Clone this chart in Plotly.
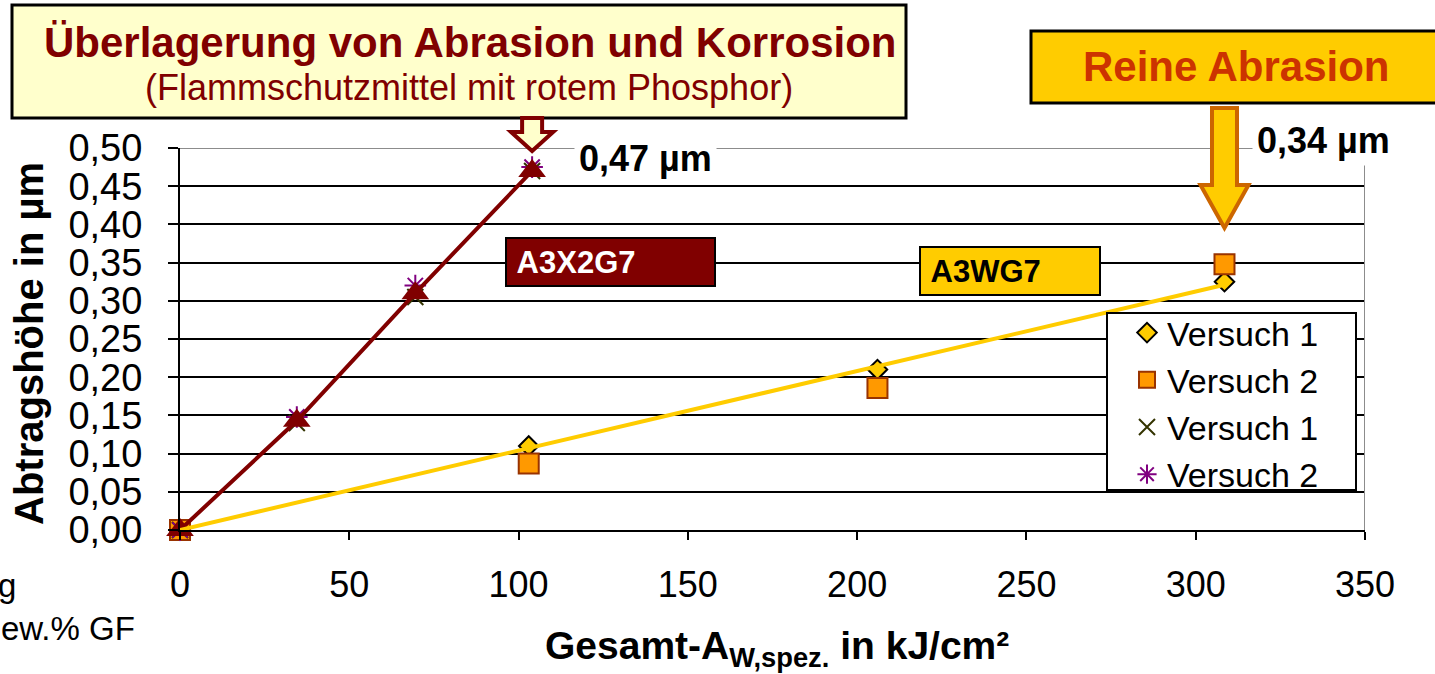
import plotly.graph_objects as go

# Abtragshöhe (µm) über dem Gesamt-Energieeintrag (kJ/cm²)
energie_a3x2g7 = [0, 34.5, 69.5, 104]
abtrag_a3x2g7_v1 = [0, 0.140, 0.305, 0.470]
abtrag_a3x2g7_v2 = [0, 0.148, 0.320, 0.475]
abtrag_a3x2g7_mittel = [0, 0.143, 0.310, 0.470]

energie_a3wg7 = [0, 103, 206, 308.5]
abtrag_a3wg7_v1 = [0, 0.110, 0.210, 0.325]
abtrag_a3wg7_v2 = [0, 0.087, 0.186, 0.348]

trend_a3wg7_x = [0, 308.5]
trend_a3wg7_y = [0, 0.321]

x_ticks = [0, 50, 100, 150, 200, 250, 300, 350]
y_ticks = [0.00, 0.05, 0.10, 0.15, 0.20, 0.25, 0.30, 0.35, 0.40, 0.45, 0.50]

FONT = "Arial, Liberation Sans, sans-serif"
W, H = 1435, 674
L, R, T, B = 180, 1365, 148, 530
XMAX, YMAX = 350, 0.5


def px(X):  # page pixel -> paper x
    return (X - L) / (R - L)


def py(Y):  # page pixel -> paper y
    return (B - Y) / (B - T)


def x2px(x):
    return L + x / XMAX * (R - L)


def fmt_um(v):
    return f"{v:.2f}".replace(".", ",") + " µm"


fig = go.Figure()

fig.add_trace(go.Scatter(
    x=energie_a3wg7, y=abtrag_a3wg7_v1, mode="markers", name="Versuch 1",
    marker=dict(symbol="diamond", size=15, color="#FFCC00", line=dict(color="black", width=2)),
    cliponaxis=False))
fig.add_trace(go.Scatter(
    x=energie_a3wg7, y=abtrag_a3wg7_v2, mode="markers", name="Versuch 2",
    marker=dict(symbol="square", size=20, color="#FF9900", line=dict(color="#993300", width=2)),
    cliponaxis=False))
fig.add_trace(go.Scatter(
    x=energie_a3x2g7, y=abtrag_a3x2g7_v1, mode="markers", name="Versuch 1",
    marker=dict(symbol="x-thin-open", size=16, color="#333300", line=dict(color="#333300", width=2)),
    cliponaxis=False))
fig.add_trace(go.Scatter(
    x=energie_a3x2g7, y=abtrag_a3x2g7_v2, mode="markers", name="Versuch 2",
    marker=dict(symbol="asterisk-open", size=18, color="#800080", line=dict(color="#800080", width=2)),
    cliponaxis=False))
fig.add_trace(go.Scatter(
    x=energie_a3x2g7, y=abtrag_a3x2g7_mittel, mode="lines+markers", showlegend=False,
    line=dict(color="#800000", width=4),
    marker=dict(symbol="triangle-up", size=24, color="#800000"),
    cliponaxis=False))
fig.add_trace(go.Scatter(
    x=trend_a3wg7_x, y=trend_a3wg7_y, mode="lines", showlegend=False,
    line=dict(color="#FFCC00", width=4), cliponaxis=False))

shapes = []
# grey plot-area frame (top and right)
shapes.append(dict(type="line", xref="x", yref="y", x0=0, x1=XMAX, y0=YMAX, y1=YMAX,
                   line=dict(color="#8C8C8C", width=2), layer="between"))
shapes.append(dict(type="line", xref="x", yref="y", x0=XMAX, x1=XMAX, y0=0, y1=YMAX,
                   line=dict(color="#8C8C8C", width=2), layer="between"))

# legend frame
shapes.append(dict(type="rect", xref="paper", yref="paper",
                   x0=px(1107), x1=px(1356), y0=py(490), y1=py(313),
                   fillcolor="white", line=dict(color="black", width=2), layer="above"))

# header boxes
shapes.append(dict(type="rect", xref="paper", yref="paper",
                   x0=px(12), x1=px(906), y0=py(118), y1=py(5),
                   fillcolor="#FFFFCC", line=dict(color="black", width=3), layer="above"))
shapes.append(dict(type="rect", xref="paper", yref="paper",
                   x0=px(1031), x1=px(1445), y0=py(103), y1=py(31),
                   fillcolor="#FFCC00", line=dict(color="black", width=3), layer="above"))


def block_arrow(xc_px, top, shaft_bottom, tip, shaft_half, head_half):
    pts = [(xc_px - shaft_half, top), (xc_px + shaft_half, top),
           (xc_px + shaft_half, shaft_bottom), (xc_px + head_half, shaft_bottom),
           (xc_px, tip), (xc_px - head_half, shaft_bottom),
           (xc_px - shaft_half, shaft_bottom)]
    return "M " + " L ".join(f"{px(X):.5f},{py(Y):.5f}" for X, Y in pts) + " Z"


# arrows pointing at the last measurement of each material
xr = x2px(energie_a3x2g7[-1])
shapes.append(dict(type="path", xref="paper", yref="paper",
                   path=block_arrow(xr, 118, 132, 151, 10, 21),
                   fillcolor="#FFFFCC", line=dict(color="#800000", width=4), layer="above"))
xy = x2px(energie_a3wg7[-1])
shapes.append(dict(type="path", xref="paper", yref="paper",
                   path=block_arrow(xy, 108, 185, 228, 12.5, 24),
                   fillcolor="#FFCC00", line=dict(color="#CC6600", width=4), layer="above"))

annotations = []


def ann(text, X, Y, size, color="black", bold=False, **kw):
    t = f"<b>{text}</b>" if bold else text
    d = dict(text=t, xref="paper", yref="paper", x=px(X), y=py(Y), showarrow=False,
             font=dict(family=FONT, size=size, color=color), xanchor="center", yanchor="middle")
    d.update(kw)
    annotations.append(d)


ann("Überlagerung von Abrasion und Korrosion", 470, 42, 42, "#800000", bold=True)
ann("(Flammschutzmittel mit rotem Phosphor)", 469, 88, 36, "#800000")
ann("Reine Abrasion", 1236, 67, 42, "#CC3300", bold=True)

ann(fmt_um(abtrag_a3x2g7_mittel[-1]), 645, 158, 36, bold=True, bgcolor="white", borderpad=4)
mean_a3wg7 = (abtrag_a3wg7_v1[-1] + abtrag_a3wg7_v2[-1]) / 2
ann(fmt_um(mean_a3wg7), 1323, 140, 36, bold=True, bgcolor="white", borderpad=4)

ann("&nbsp;A3X2G7", 610.5, 261.5, 31, "white", bold=True, bgcolor="#800000",
    bordercolor="black", borderwidth=2, borderpad=1, width=205, height=44, align="left")
ann("&nbsp;A3WG7", 1010, 270.5, 31, "black", bold=True, bgcolor="#FFCC00",
    bordercolor="black", borderwidth=2, borderpad=1, width=176, height=44, align="left")

# axis titles
ann("Abtragshöhe in µm", 29, 344, 40, bold=True, textangle=-90)
ann("Gesamt-A<sub>W,spez.</sub> in kJ/cm²", 777, 648, 39, bold=True)

# partially visible side note
ann("g", 18, 585, 33, xanchor="right")
ann("ew.% GF", 137, 628, 33, xanchor="right")

fig.update_layout(
    width=W, height=H,
    margin=dict(l=L, r=W - R, t=T, b=H - B, pad=0),
    paper_bgcolor="white", plot_bgcolor="white",
    separators=",.",
    font=dict(family=FONT, color="black"),
    shapes=shapes, annotations=annotations,
    showlegend=True,
    legend=dict(x=px(1127), y=py(304), xanchor="left", yanchor="top",
                bgcolor="rgba(0,0,0,0)", borderwidth=0,
                font=dict(family=FONT, size=34, color="black"),
                tracegroupgap=0, itemsizing="trace"),
    xaxis=dict(range=[0, XMAX], tickvals=x_ticks, showgrid=False, zeroline=False,
               showline=True, linecolor="black", linewidth=2,
               ticks="outside", ticklen=8, tickwidth=2, tickcolor="black",
               tickfont=dict(family=FONT, size=36), ticklabelstandoff=14),
    yaxis=dict(range=[0, YMAX], tickvals=y_ticks, tickformat=".2f", showgrid=True,
               gridcolor="black", gridwidth=2, zeroline=False,
               showline=True, linecolor="black", linewidth=2,
               ticks="outside", ticklen=10, tickwidth=2, tickcolor="black",
               tickfont=dict(family=FONT, size=38), ticklabelstandoff=18),
)

fig.write_html("out.html")
